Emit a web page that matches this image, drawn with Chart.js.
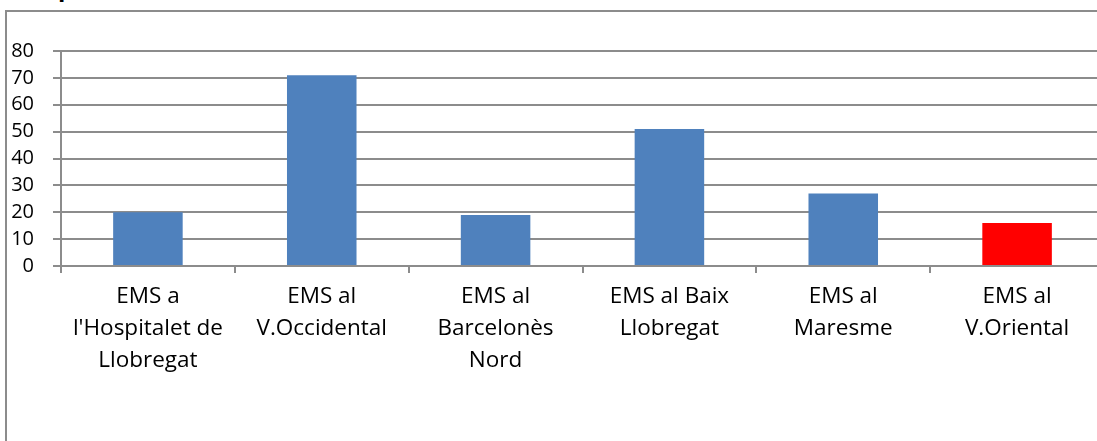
<!DOCTYPE html>
<html>
<head>
<meta charset="utf-8">
<script src="https://cdn.jsdelivr.net/npm/chart.js@4/dist/chart.umd.min.js"></script>
<style>
  html, body { margin: 0; padding: 0; overflow: hidden; background: #fff; }
  #wrap { position: relative; width: 1097px; height: 441px; overflow: hidden; }
  #frame {
    position: absolute; left: 5px; top: 10px; width: 1092px; height: 431px;
    border-top: 2px solid #8c8c8c; border-left: 2px solid #8c8c8c;
  }
  #title {
    position: absolute; left: 58px; top: -30px;
    font: bold 24px 'Open Sans', sans-serif; color: #000;
  }
  #chart { position: absolute; left: 0; top: 0; }
</style>
</head>
<body>
<div id="wrap">
  <div id="frame"></div>
  <div id="title">p</div>
  <canvas id="chart" width="1104" height="441"></canvas>
</div>
<script>
const categories = [
  ['EMS a', "l'Hospitalet de", 'Llobregat'],
  ['EMS al', 'V.Occidental'],
  ['EMS al', 'Barcelonès', 'Nord'],
  ['EMS al Baix', 'Llobregat'],
  ['EMS al', 'Maresme'],
  ['EMS al', 'V.Oriental'],
]
const values = [20, 71, 19, 51, 27, 16]
const barColors = ['#4f81bd', '#4f81bd', '#4f81bd', '#4f81bd', '#4f81bd', '#ff0000']
const yTicks = [0, 10, 20, 30, 40, 50, 60, 70, 80]

const LINE = '#8c8c8c'
const FONT = 'Open Sans'

new Chart(document.getElementById('chart'), {
  type: 'bar',
  data: {
    labels: categories,
    datasets: [{
      data: values,
      backgroundColor: barColors,
      borderWidth: 0,
      barPercentage: 0.4,
      categoryPercentage: 1,
    }],
  },
  options: {
    responsive: false,
    animation: false,
    layout: { padding: { top: 51, left: 0, right: 0, bottom: 0 } },
    plugins: {
      legend: { display: false },
      tooltip: { enabled: false },
    },
    scales: {
      x: {
        afterFit: s => { s.height = 175 },
        grid: {
          drawOnChartArea: false,
          drawTicks: true,
          tickLength: 7,
          color: LINE,
          lineWidth: 2,
        },
        border: { display: true, color: LINE, width: 2 },
        ticks: {
          color: '#000',
          font: { family: FONT, size: 22.5, lineHeight: 1.42 },
          padding: 8,
          maxRotation: 0,
          autoSkip: false,
        },
      },
      y: {
        min: 0,
        max: 80,
        afterFit: s => { s.width = 61 },
        afterBuildTicks: s => { s.ticks = yTicks.map(v => ({ value: v })) },
        grid: {
          color: LINE,
          lineWidth: 2,
          drawTicks: true,
          tickLength: 8,
        },
        border: { display: true, color: LINE, width: 2 },
        ticks: {
          color: '#000',
          font: { family: FONT, size: 20 },
          padding: 19,
          autoSkip: false,
        },
      },
    },
  },
})
</script>
</body>
</html>
